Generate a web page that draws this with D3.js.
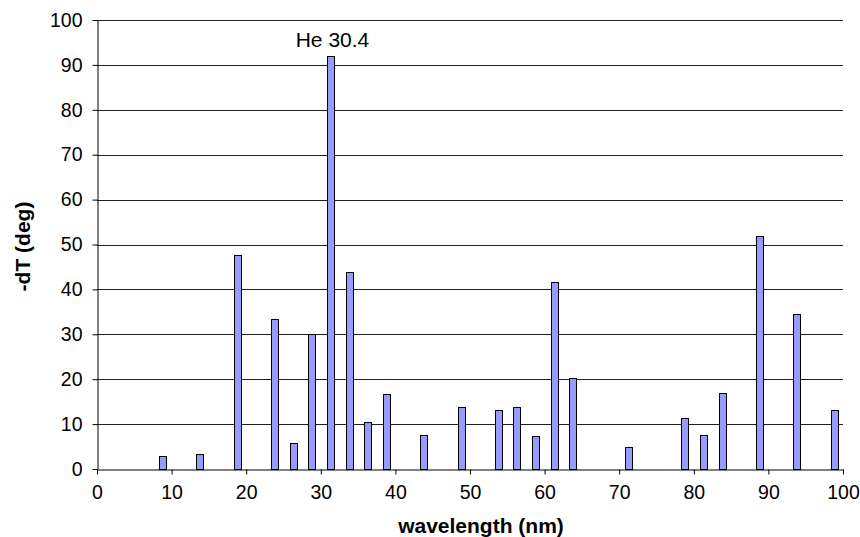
<!DOCTYPE html>
<html>
<head>
<meta charset="utf-8">
<script src="https://cdn.jsdelivr.net/npm/d3@7"></script>
<style>
  body { margin: 0; background: #fff; }
  text { font-family: "Liberation Sans", Arial, sans-serif; }
</style>
</head>
<body>
<div class="chart"></div>
<script>
// wavelength bins (nm) and -dT values
const wavelengths = [8.8, 13.8, 18.8, 23.8, 26.3, 28.8, 31.3, 33.8, 36.3, 38.8, 43.8, 48.8,
                     53.8, 56.3, 58.8, 61.3, 63.8, 71.3, 78.8, 81.3, 83.8, 88.8, 93.8, 98.8];
const dT = [2.9, 3.3, 47.6, 33.5, 5.8, 30, 92, 43.8, 10.5, 16.6, 7.6, 13.7,
            13.1, 13.8, 7.3, 41.7, 20.2, 5.0, 11.4, 7.5, 17.0, 51.8, 34.5, 13.1];
const xTicks = [0, 10, 20, 30, 40, 50, 60, 70, 80, 90, 100];
const yTicks = [0, 10, 20, 30, 40, 50, 60, 70, 80, 90, 100];
const peakLabel = "He 30.4";

const width = 860, height = 537;
const margin = {top: 20, right: 17, bottom: 68, left: 97};

const svg = d3.select(".chart").append("svg")
    .attr("width", width)
    .attr("height", height);

const x = d3.scaleLinear().domain([0, 100]).range([margin.left, width - margin.right]);
const y = d3.scaleLinear().domain([0, 100]).range([height - margin.bottom, margin.top]);

// gridlines
svg.append("g")
    .selectAll("line")
    .data(yTicks.filter(d => d > 0))
    .join("line")
    .attr("x1", x(0)).attr("x2", x(100))
    .attr("y1", d => Math.round(y(d)) + 0.5)
    .attr("y2", d => Math.round(y(d)) + 0.5)
    .attr("stroke", "#222")
    .attr("stroke-width", 1);

// bars
const bw = 7;
svg.append("g")
    .selectAll("rect")
    .data(wavelengths)
    .join("rect")
    .attr("x", d => Math.round(x(d) - bw / 2) + 0.5)
    .attr("y", (d, i) => Math.round(y(dT[i])) + 0.5)
    .attr("width", bw)
    .attr("height", (d, i) => Math.round(y(0)) - Math.round(y(dT[i])))
    .attr("fill", "#9999ff")
    .attr("stroke", "#000")
    .attr("stroke-width", 1);

// axes
const xAxis = svg.append("g")
    .attr("transform", `translate(0,${Math.round(y(0)) + 0.5})`)
    .call(d3.axisBottom(x).tickValues(xTicks).tickSize(5).tickPadding(11).tickSizeOuter(0));
const yAxis = svg.append("g")
    .attr("transform", `translate(${Math.round(x(0)) + 0.5},0)`)
    .call(d3.axisLeft(y).tickValues(yTicks).tickSize(5).tickPadding(10).tickSizeOuter(0));

[xAxis, yAxis].forEach(g => {
  g.select(".domain").attr("stroke", "#000");
  g.selectAll(".tick line").attr("stroke", "#000");
  g.selectAll(".tick text")
    .attr("font-size", 19.5)
    .attr("font-family", "Liberation Sans, Arial, sans-serif")
    .attr("fill", "#000");
});

// peak annotation
const pi = dT.indexOf(d3.max(dT));
svg.append("text")
    .attr("x", x(wavelengths[pi]) + 2)
    .attr("y", 47)
    .attr("text-anchor", "middle")
    .attr("font-size", 21)
    .text(peakLabel);

// axis titles
svg.append("text")
    .attr("x", (x(0) + x(100)) / 2 + 11)
    .attr("y", 533)
    .attr("text-anchor", "middle")
    .attr("font-size", 21)
    .attr("font-weight", "bold")
    .text("wavelength (nm)");

svg.append("text")
    .attr("transform", `translate(30,${(y(0) + y(100)) / 2 + 2}) rotate(-90)`)
    .attr("text-anchor", "middle")
    .attr("font-size", 21)
    .attr("font-weight", "bold")
    .text("-dT (deg)");
</script>
</body>
</html>
